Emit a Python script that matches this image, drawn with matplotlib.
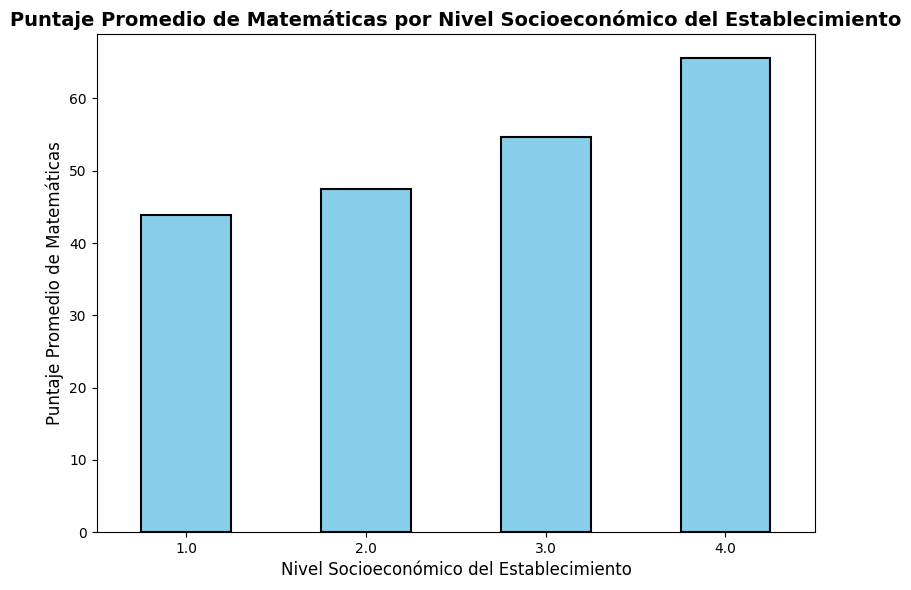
import matplotlib
matplotlib.use("Agg")
import matplotlib.pyplot as plt

categories = ["1.0", "2.0", "3.0", "4.0"]
values = [43.9, 47.5, 54.7, 65.6]

fig, ax = plt.subplots(figsize=(9.11, 5.9), dpi=100)
x = range(len(categories))
ax.bar(x, values, width=0.5, color="skyblue", edgecolor="black", linewidth=1.5)
ax.set_xticks(list(x))
ax.set_xticklabels(categories)
ax.set_xlim(-0.5, len(categories) - 0.5)
ax.set_title("Puntaje Promedio de Matemáticas por Nivel Socioeconómico del Establecimiento",
             fontsize=14, fontweight="bold")
ax.set_xlabel("Nivel Socioeconómico del Establecimiento", fontsize=12)
ax.set_ylabel("Puntaje Promedio de Matemáticas", fontsize=12)
fig.subplots_adjust(left=0.106, right=0.895, top=0.942, bottom=0.098)
fig.savefig("out.png", dpi=100)
